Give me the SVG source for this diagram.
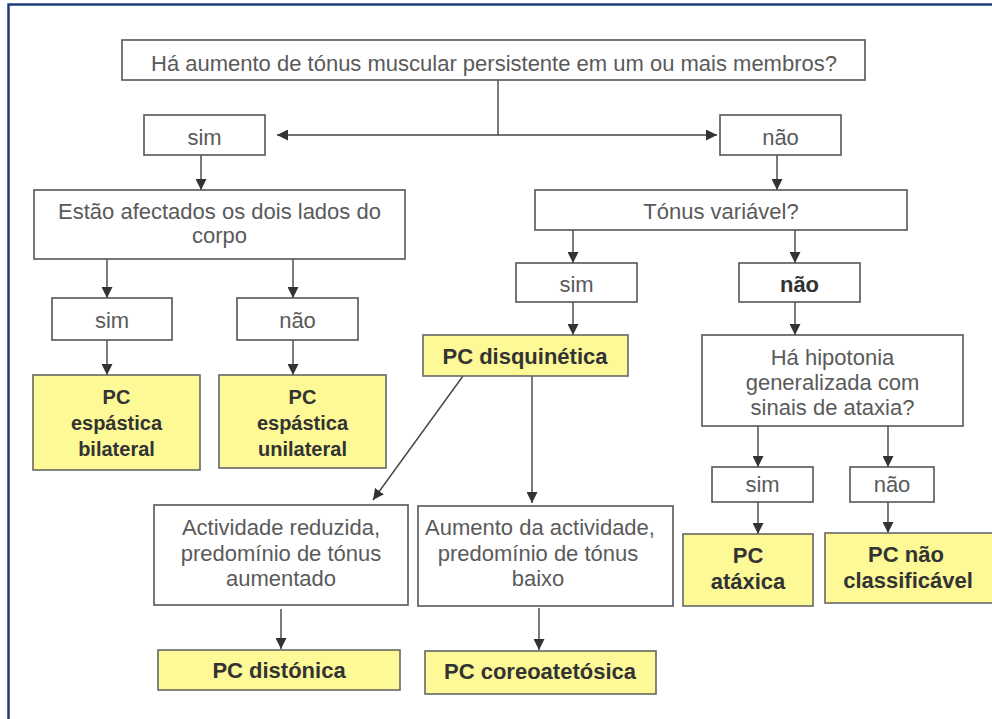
<svg xmlns="http://www.w3.org/2000/svg" width="992" height="719" viewBox="0 0 992 719">
<defs>
<marker id="arr" viewBox="0 0 10 10" refX="10" refY="5" markerWidth="11" markerHeight="11" markerUnits="userSpaceOnUse" orient="auto-start-reverse">
<path d="M0,0 L10,5 L0,10 z" fill="#333"/>
</marker>
</defs>
<style>
.box{fill:#fff;stroke:#555;stroke-width:1.6}
.res{fill:#fcf996;stroke:#666;stroke-width:1.6}
.t{font-family:"Liberation Sans",Arial,sans-serif;font-size:22px;fill:#5a5a5a;text-anchor:middle}
.b{font-family:"Liberation Sans",Arial,sans-serif;font-size:22px;font-weight:bold;fill:#333;text-anchor:middle}
.m{font-size:20px}
.c{fill:none;stroke:#444;stroke-width:1.4}
</style>
<rect width="992" height="719" fill="#fff"/>
<rect x="8.5" y="4.5" width="1000" height="800" fill="none" stroke="#1f3d7a" stroke-width="2.5"/>

<g id="connectors">
<polyline class="c" points="498,80 498,135"/>
<line class="c" x1="277" y1="135" x2="717" y2="135" marker-start="url(#arr)" marker-end="url(#arr)"/>
<line class="c" x1="201" y1="155" x2="201" y2="190" marker-end="url(#arr)"/>
<line class="c" x1="777" y1="155" x2="777" y2="190" marker-end="url(#arr)"/>
<line class="c" x1="107" y1="259" x2="107" y2="298" marker-end="url(#arr)"/>
<line class="c" x1="293" y1="259" x2="293" y2="298" marker-end="url(#arr)"/>
<line class="c" x1="107" y1="340" x2="107" y2="375" marker-end="url(#arr)"/>
<line class="c" x1="293" y1="340" x2="293" y2="375" marker-end="url(#arr)"/>
<line class="c" x1="573" y1="230" x2="573" y2="263" marker-end="url(#arr)"/>
<line class="c" x1="795" y1="230" x2="795" y2="263" marker-end="url(#arr)"/>
<line class="c" x1="573" y1="302" x2="573" y2="335" marker-end="url(#arr)"/>
<line class="c" x1="795" y1="302" x2="795" y2="335" marker-end="url(#arr)"/>
<line class="c" x1="758" y1="426" x2="758" y2="467" marker-end="url(#arr)"/>
<line class="c" x1="888" y1="426" x2="888" y2="467" marker-end="url(#arr)"/>
<line class="c" x1="758" y1="502" x2="758" y2="534" marker-end="url(#arr)"/>
<line class="c" x1="888" y1="502" x2="888" y2="533" marker-end="url(#arr)"/>
<line class="c" x1="463" y1="376" x2="373" y2="500" marker-end="url(#arr)"/>
<line class="c" x1="532" y1="376" x2="532" y2="503" marker-end="url(#arr)"/>
<line class="c" x1="281" y1="609" x2="281" y2="649" marker-end="url(#arr)"/>
<line class="c" x1="539" y1="608" x2="539" y2="650" marker-end="url(#arr)"/>
</g>

<g id="q1"><rect class="box" x="122" y="40" width="743" height="40"/>
<text class="t" x="494" y="71" font-size="23">Há aumento de tónus muscular persistente em um ou mais membros?</text></g>

<g id="sim1"><rect class="box" x="144" y="115" width="121" height="40"/><text class="t" x="204.5" y="145">sim</text></g>
<g id="nao1"><rect class="box" x="720" y="115" width="121" height="40"/><text class="t" x="780.5" y="145">não</text></g>

<g id="q2"><rect class="box" x="34" y="190" width="371" height="69"/>
<text class="t" x="219.5" y="219">Estão afectados os dois lados do</text>
<text class="t" x="219.5" y="243">corpo</text></g>

<g id="q3"><rect class="box" x="535" y="190" width="372" height="40"/><text class="t" x="721" y="219">Tónus variável?</text></g>

<g id="sim2"><rect class="box" x="52" y="298" width="120" height="42"/><text class="t" x="112" y="328">sim</text></g>
<g id="nao2"><rect class="box" x="237" y="298" width="121" height="42"/><text class="t" x="297.5" y="328">não</text></g>

<g id="bilateral"><rect class="res" x="33" y="375" width="167" height="95"/>
<text class="b m" x="116.5" y="404">PC</text>
<text class="b m" x="116.5" y="430">espástica</text>
<text class="b m" x="116.5" y="456">bilateral</text></g>

<g id="unilateral"><rect class="res" x="219" y="375" width="167" height="93"/>
<text class="b m" x="302.5" y="404">PC</text>
<text class="b m" x="302.5" y="430">espástica</text>
<text class="b m" x="302.5" y="456">unilateral</text></g>

<g id="sim3"><rect class="box" x="516" y="263" width="121" height="39"/><text class="t" x="576.5" y="292">sim</text></g>
<g id="nao3"><rect class="box" x="739" y="263" width="121" height="39"/><text class="b" x="799.5" y="292">não</text></g>

<g id="disquinetica"><rect class="res" x="423" y="335" width="205" height="41"/><text class="b" x="525" y="364">PC disquinética</text></g>

<g id="q4"><rect class="box" x="702" y="335" width="261" height="91"/>
<text class="t" x="832.5" y="365">Há hipotonia</text>
<text class="t" x="832.5" y="390">generalizada com</text>
<text class="t" x="832.5" y="415">sinais de ataxia?</text></g>

<g id="sim4"><rect class="box" x="712" y="467" width="101" height="35"/><text class="t" x="762.5" y="492">sim</text></g>
<g id="nao4"><rect class="box" x="850" y="467" width="84" height="35"/><text class="t" x="892" y="492">não</text></g>

<g id="ataxica"><rect class="res" x="683" y="534" width="130" height="72"/>
<text class="b" x="748" y="563">PC</text>
<text class="b" x="748" y="589">atáxica</text></g>

<g id="naoclass"><rect class="res" x="825" y="533" width="170" height="70"/>
<text class="b" x="906" y="562">PC não</text>
<text class="b" x="908" y="588">classificável</text></g>

<g id="q5"><rect class="box" x="154" y="505" width="254" height="100"/>
<text class="t" x="281" y="535">Actividade reduzida,</text>
<text class="t" x="281" y="561">predomínio de tónus</text>
<text class="t" x="281" y="586">aumentado</text></g>

<g id="q6"><rect class="box" x="418" y="506" width="255" height="100"/>
<text class="t" x="540" y="535">Aumento da actividade,</text>
<text class="t" x="538" y="561">predomínio de tónus</text>
<text class="t" x="538" y="586">baixo</text></g>

<g id="distonica"><rect class="res" x="158" y="650" width="242" height="40"/><text class="b" x="279" y="678">PC distónica</text></g>
<g id="coreo"><rect class="res" x="425" y="651" width="231" height="43"/><text class="b" x="540" y="679">PC coreoatetósica</text></g>
</svg>
